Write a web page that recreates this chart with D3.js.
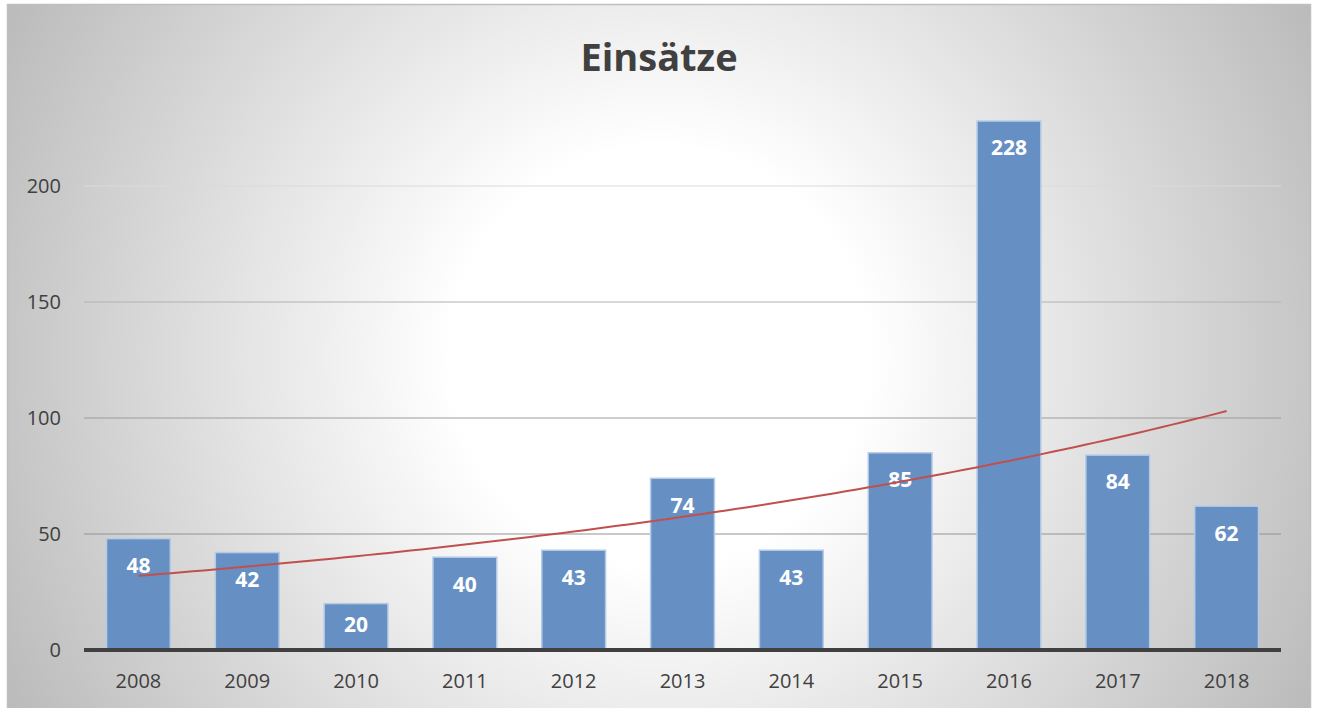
<!DOCTYPE html>
<html>
<head>
<meta charset="utf-8">
<script src="https://cdn.jsdelivr.net/npm/d3@7"></script>
<style>
  html, body { margin: 0; padding: 0; background: #fff; }
  svg { display: block; }
</style>
</head>
<body>
<svg id="chart" width="1317" height="708"></svg>
<script>
const title = "Einsätze";
const categories = ["2008","2009","2010","2011","2012","2013","2014","2015","2016","2017","2018"];
const values = [48, 42, 20, 40, 43, 74, 43, 85, 228, 84, 62];
const yTicks = [0, 50, 100, 150, 200];

const W = 1317, H = 708;
const svg = d3.select("#chart");
const defs = svg.append("defs");

// background radial gradient
const rg = defs.append("radialGradient").attr("id", "bg")
  .attr("gradientUnits", "userSpaceOnUse")
  .attr("cx", 659).attr("cy", 356).attr("r", 745);
rg.append("stop").attr("offset", 0).attr("stop-color", "#ffffff");
rg.append("stop").attr("offset", 0.28).attr("stop-color", "#ffffff");
rg.append("stop").attr("offset", 1).attr("stop-color", "#bababa");

// gridline gradient (vertical)
const lg = defs.append("linearGradient").attr("id", "gridg")
  .attr("gradientUnits", "userSpaceOnUse")
  .attr("x1", 0).attr("y1", 180).attr("x2", 0).attr("y2", 540);
lg.append("stop").attr("offset", 0).attr("stop-color", "#dcdcdc");
lg.append("stop").attr("offset", 0.35).attr("stop-color", "#b0b0b0");
lg.append("stop").attr("offset", 0.7).attr("stop-color", "#9a9a9a");
lg.append("stop").attr("offset", 1).attr("stop-color", "#929292");

// chart area
svg.append("rect").attr("x", 7.5).attr("y", 4.5).attr("width", 1303).attr("height", 720)
  .attr("fill", "url(#bg)").attr("stroke", "#bfbfbf").attr("stroke-width", 1.5);

const plot = { left: 84, right: 1281, top: 70, bottom: 650 };

const x = d3.scaleBand().domain(categories)
  .range([plot.left, plot.right]).paddingInner(0.4).paddingOuter(0.2);
const y = d3.scaleLinear().domain([0, 200]).range([plot.bottom, 186]);

// gridlines
svg.append("g").selectAll("line").data(yTicks.filter(d => d > 0)).join("line")
  .attr("x1", plot.left).attr("x2", plot.right)
  .attr("y1", d => y(d)).attr("y2", d => y(d))
  .attr("stroke", "url(#gridg)").attr("stroke-width", 1);

// title
svg.append("text").attr("x", 659).attr("y", 71)
  .attr("text-anchor", "middle")
  .attr("font-family", "'Open Sans', sans-serif").attr("font-weight", "bold")
  .attr("font-size", 38).attr("fill", "#404040").text(title);

// y axis labels
const yAxis = d3.axisLeft(y).tickValues(yTicks).tickSize(0).tickPadding(0);
const ga = svg.append("g").attr("transform", `translate(61,0)`).call(yAxis);
ga.select(".domain").remove();
ga.selectAll("text").attr("font-family", "'Open Sans', sans-serif")
  .attr("font-size", 20).attr("fill", "#404040");

// bars
svg.append("g").selectAll("rect").data(values).join("rect")
  .attr("x", (d, i) => x(categories[i]) + 0.75)
  .attr("y", d => y(d))
  .attr("width", x.bandwidth() - 1.5)
  .attr("height", d => y(0) - y(d))
  .attr("fill", "#6690c4").attr("stroke", "#b4cbe6").attr("stroke-width", 1.5);

// x axis
const xAxis = d3.axisBottom(x).tickSize(0).tickPadding(0);
const gx = svg.append("g").attr("transform", `translate(0,${plot.bottom})`).call(xAxis);
gx.select(".domain").remove();
gx.selectAll("text").attr("font-family", "'Open Sans', sans-serif")
  .attr("font-size", 20).attr("fill", "#404040").attr("dy", null).attr("y", 38);

svg.append("line").attr("x1", plot.left).attr("x2", plot.right)
  .attr("y1", y(0)).attr("y2", y(0))
  .attr("stroke", "#404040").attr("stroke-width", 4);

// exponential trendline (least squares on ln values)
const xs = values.map((d, i) => i + 1);
const ls = values.map(d => Math.log(d));
const mx = d3.mean(xs), ml = d3.mean(ls);
const b = d3.sum(xs, (v, i) => (v - mx) * (ls[i] - ml)) / d3.sum(xs, v => (v - mx) ** 2);
const a = ml - b * mx;
const xi = d3.scaleLinear().domain([1, categories.length])
  .range([x(categories[0]) + x.bandwidth() / 2, x(categories[categories.length - 1]) + x.bandwidth() / 2]);
const trendPts = d3.range(1, categories.length + 0.001, 0.1).map(t => [xi(t), y(Math.exp(a + b * t))]);

// data labels
svg.append("g").selectAll("text").data(values).join("text")
  .attr("x", (d, i) => x(categories[i]) + x.bandwidth() / 2)
  .attr("y", d => Math.min(y(d) + 27, (y(d) + y(0)) / 2 - 2))
  .attr("dy", "0.35em")
  .attr("text-anchor", "middle")
  .attr("font-family", "'Open Sans', sans-serif").attr("font-weight", "bold")
  .attr("font-size", 21).attr("fill", "#ffffff").text(d => d);

svg.append("path").datum(trendPts)
  .attr("d", d3.line())
  .attr("fill", "none").attr("stroke", "#c0504d").attr("stroke-width", 2);
</script>
</body>
</html>
